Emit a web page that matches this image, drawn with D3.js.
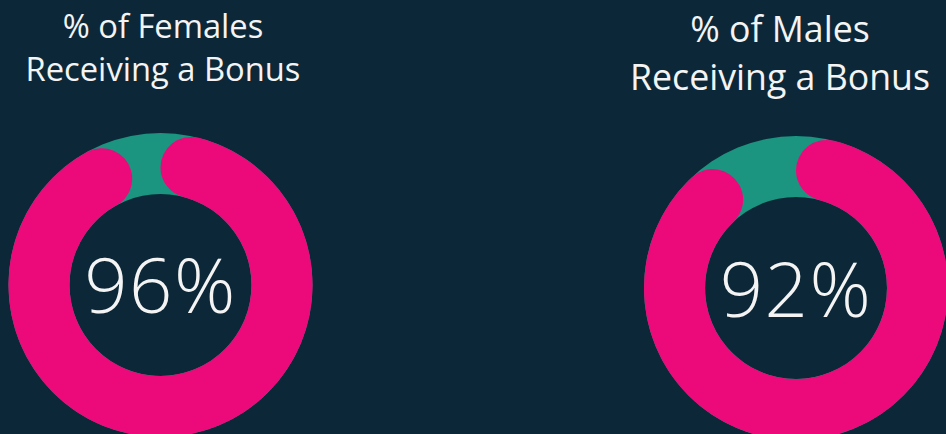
<!DOCTYPE html>
<html>
<head>
<meta charset="utf-8">
<script src="https://cdn.jsdelivr.net/npm/d3@7"></script>
<style>
  html, body { margin: 0; padding: 0; background: #0c2838; overflow: hidden; }
  text { font-family: "Open Sans", "Noto Sans", sans-serif; fill: #f4f4f4; }
</style>
</head>
<body>
<script>
var width = 946;
var height = 434;

// data
var groups = ["Females", "Males"];
var titles = ["% of Females", "% of Males"];
var subtitle = "Receiving a Bonus";
var shares = [0.96, 0.92];

var svg = d3.select("body").append("svg")
    .attr("width", width)
    .attr("height", height);

// layout per donut
var centers = [[160.5, 285], [796, 288]];
var titleX = [163, 780];
var titleBase = [[37.5, 81], [41.5, 90]];
var titleWidth = [275, 300];
var numBase = [313, 317];

var outerR = 152;
var innerR = 91;

var angle = d3.scaleLinear()
    .domain([0, 1])
    .range([0, 2 * Math.PI]);

var ringArc = d3.arc()
    .innerRadius(innerR)
    .outerRadius(outerR)
    .startAngle(0)
    .endAngle(2 * Math.PI);

var valueArc = d3.arc()
    .innerRadius(innerR)
    .outerRadius(outerR)
    .cornerRadius((outerR - innerR) / 2)
    .startAngle(0)
    .endAngle(function(d){ return angle(d); });

// set font size so the text is as wide as in the picture
function fitWidth(sel, w) {
    var fs = parseFloat(sel.style("font-size"));
    sel.style("font-size", (fs * w / sel.node().getComputedTextLength()) + "px");
}

groups.forEach(function(g, i){
    var c = svg.append("g")
        .attr("transform", "translate(" + centers[i][0] + "," + centers[i][1] + ")");

    c.append("path")
        .attr("d", ringArc())
        .attr("fill", "#1b9480");

    c.append("path")
        .datum(shares[i])
        .attr("d", valueArc)
        .attr("fill", "#ec0a7b");

    c.append("text")
        .text(d3.format(".0%")(shares[i]))
        .attr("text-anchor", "middle")
        .attr("x", 0)
        .attr("y", numBase[i] - centers[i][1])
        .style("font-size", "76px")
        .style("font-weight", 350)
        .style("letter-spacing", "1.5px");

    var t1 = svg.append("text")
        .text(titles[i])
        .attr("text-anchor", "middle")
        .attr("x", titleX[i])
        .attr("y", titleBase[i][0])
        .style("font-size", "30px");
    var t2 = svg.append("text")
        .text(subtitle)
        .attr("text-anchor", "middle")
        .attr("x", titleX[i])
        .attr("y", titleBase[i][1])
        .style("font-size", "30px");
    fitWidth(t2, titleWidth[i]);
    t1.style("font-size", t2.style("font-size"));
});
</script>
</body>
</html>
